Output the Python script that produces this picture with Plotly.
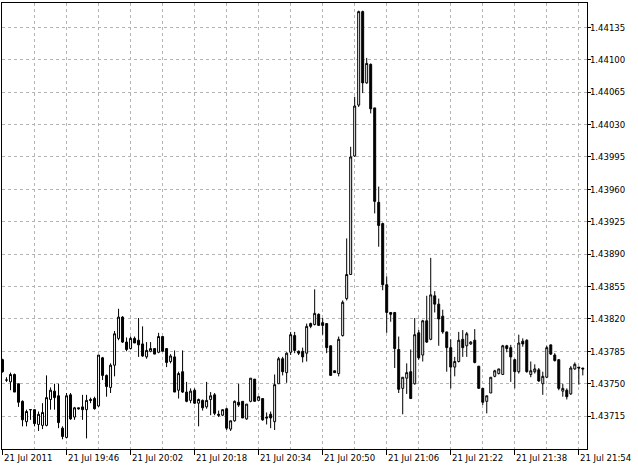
import pandas as pd
import plotly.graph_objects as go

start_time = "2011-07-21 19:30"

opens = [1.43776, 1.43754, 1.43752, 1.43760, 1.43750, 1.43731, 1.43709, 1.43722, 1.43722, 1.43706,
         1.43705, 1.43705, 1.43733, 1.43742, 1.43737, 1.43702, 1.43692, 1.43738, 1.43714, 1.43724,
         1.43725, 1.43722, 1.43733, 1.43734, 1.43726, 1.43778, 1.43759, 1.43746, 1.43770, 1.43799,
         1.43822, 1.43795, 1.43788, 1.43799, 1.43797, 1.43793, 1.43779, 1.43785, 1.43788, 1.43784,
         1.43801, 1.43788, 1.43774, 1.43779, 1.43743, 1.43763, 1.43741, 1.43732, 1.43743, 1.43729,
         1.43732, 1.43725, 1.43733, 1.43738, 1.43717, 1.43716, 1.43723, 1.43701, 1.43710, 1.43730,
         1.43731, 1.43712, 1.43731, 1.43755, 1.43732, 1.43734, 1.43714, 1.43717, 1.43709, 1.43750,
         1.43777, 1.43762, 1.43784, 1.43802, 1.43785, 1.43785, 1.43783, 1.43815, 1.43814, 1.43825,
         1.43816, 1.43815, 1.43791, 1.43764, 1.43761, 1.43802, 1.43842, 1.43868, 1.43996, 1.44051,
         1.44152, 1.44075, 1.44095, 1.44048, 1.43946, 1.43923, 1.43857, 1.43827, 1.43827, 1.43787,
         1.43745, 1.43756, 1.43763, 1.43750, 1.43805, 1.43781, 1.43818, 1.43798, 1.43845, 1.43836,
         1.43823, 1.43806, 1.43789, 1.43768, 1.43774, 1.43798, 1.43791, 1.43793, 1.43797, 1.43769,
         1.43745, 1.43731, 1.43740, 1.43758, 1.43761, 1.43760, 1.43791, 1.43789, 1.43776, 1.43763,
         1.43796, 1.43797, 1.43760, 1.43763, 1.43765, 1.43750, 1.43757, 1.43792, 1.43781, 1.43776,
         1.43742, 1.43743, 1.43739, 1.43766, 1.43768, 1.43767]

highs = [1.43777, 1.43757, 1.43762, 1.43761, 1.43750, 1.43732, 1.43722, 1.43722, 1.43722, 1.43720,
         1.43729, 1.43759, 1.43746, 1.43750, 1.43750, 1.43704, 1.43740, 1.43740, 1.43725, 1.43724,
         1.43738, 1.43738, 1.43735, 1.43736, 1.43781, 1.43779, 1.43760, 1.43772, 1.43807, 1.43831,
         1.43823, 1.43800, 1.43801, 1.43801, 1.43821, 1.43812, 1.43795, 1.43795, 1.43788, 1.43805,
         1.43801, 1.43788, 1.43782, 1.43786, 1.43763, 1.43786, 1.43752, 1.43745, 1.43745, 1.43734,
         1.43733, 1.43752, 1.43741, 1.43740, 1.43721, 1.43722, 1.43724, 1.43710, 1.43732, 1.43750,
         1.43731, 1.43728, 1.43756, 1.43755, 1.43736, 1.43734, 1.43719, 1.43720, 1.43760, 1.43779,
         1.43779, 1.43784, 1.43806, 1.43806, 1.43786, 1.43789, 1.43815, 1.43816, 1.43852, 1.43826,
         1.43821, 1.43815, 1.43791, 1.43764, 1.43801, 1.43840, 1.43907, 1.44006, 1.44060, 1.44153,
         1.44153, 1.44102, 1.44096, 1.44048, 1.43963, 1.43924, 1.43866, 1.43827, 1.43827, 1.43801,
         1.43757, 1.43772, 1.43787, 1.43821, 1.43808, 1.43819, 1.43845, 1.43886, 1.43850, 1.43842,
         1.43830, 1.43806, 1.43798, 1.43779, 1.43806, 1.43808, 1.43806, 1.43796, 1.43809, 1.43769,
         1.43745, 1.43737, 1.43757, 1.43765, 1.43766, 1.43792, 1.43792, 1.43792, 1.43777, 1.43803,
         1.43799, 1.43798, 1.43774, 1.43771, 1.43767, 1.43763, 1.43791, 1.43792, 1.43783, 1.43776,
         1.43750, 1.43745, 1.43769, 1.43773, 1.43768, 1.43767]

lows = [1.43762, 1.43752, 1.43743, 1.43741, 1.43725, 1.43704, 1.43704, 1.43711, 1.43704, 1.43699,
        1.43701, 1.43704, 1.43722, 1.43722, 1.43702, 1.43690, 1.43691, 1.43711, 1.43711, 1.43722,
        1.43711, 1.43691, 1.43729, 1.43722, 1.43725, 1.43754, 1.43736, 1.43740, 1.43758, 1.43797,
        1.43794, 1.43785, 1.43787, 1.43794, 1.43779, 1.43779, 1.43777, 1.43784, 1.43782, 1.43783,
        1.43785, 1.43768, 1.43772, 1.43741, 1.43734, 1.43740, 1.43730, 1.43729, 1.43728, 1.43704,
        1.43721, 1.43723, 1.43716, 1.43716, 1.43714, 1.43715, 1.43700, 1.43699, 1.43709, 1.43725,
        1.43713, 1.43711, 1.43730, 1.43731, 1.43732, 1.43710, 1.43706, 1.43702, 1.43700, 1.43750,
        1.43759, 1.43751, 1.43781, 1.43783, 1.43781, 1.43773, 1.43774, 1.43810, 1.43813, 1.43813,
        1.43803, 1.43783, 1.43759, 1.43762, 1.43758, 1.43801, 1.43840, 1.43868, 1.43995, 1.44049,
        1.44064, 1.44074, 1.44042, 1.43934, 1.43898, 1.43851, 1.43805, 1.43817, 1.43767, 1.43740,
        1.43717, 1.43739, 1.43734, 1.43749, 1.43776, 1.43774, 1.43794, 1.43797, 1.43827, 1.43791,
        1.43804, 1.43763, 1.43745, 1.43758, 1.43773, 1.43779, 1.43779, 1.43792, 1.43772, 1.43745,
        1.43727, 1.43718, 1.43740, 1.43757, 1.43760, 1.43760, 1.43784, 1.43752, 1.43745, 1.43761,
        1.43790, 1.43762, 1.43757, 1.43761, 1.43752, 1.43738, 1.43756, 1.43781, 1.43774, 1.43743,
        1.43736, 1.43733, 1.43738, 1.43765, 1.43749, 1.43759]

closes = [1.43763, 1.43754, 1.43760, 1.43741, 1.43730, 1.43711, 1.43720, 1.43722, 1.43707, 1.43717,
          1.43719, 1.43735, 1.43743, 1.43735, 1.43708, 1.43693, 1.43737, 1.43712, 1.43724, 1.43723,
          1.43722, 1.43732, 1.43732, 1.43723, 1.43781, 1.43759, 1.43747, 1.43770, 1.43804, 1.43822,
          1.43795, 1.43787, 1.43799, 1.43794, 1.43792, 1.43780, 1.43786, 1.43788, 1.43782, 1.43801,
          1.43785, 1.43773, 1.43780, 1.43741, 1.43761, 1.43741, 1.43731, 1.43742, 1.43729, 1.43733,
          1.43724, 1.43732, 1.43737, 1.43718, 1.43716, 1.43722, 1.43702, 1.43710, 1.43731, 1.43727,
          1.43713, 1.43728, 1.43756, 1.43731, 1.43736, 1.43711, 1.43713, 1.43713, 1.43749, 1.43777,
          1.43763, 1.43783, 1.43803, 1.43786, 1.43783, 1.43779, 1.43812, 1.43812, 1.43826, 1.43813,
          1.43813, 1.43789, 1.43759, 1.43762, 1.43798, 1.43838, 1.43868, 1.43995, 1.44050, 1.44152,
          1.44075, 1.44096, 1.44047, 1.43947, 1.43921, 1.43857, 1.43827, 1.43825, 1.43788, 1.43744,
          1.43757, 1.43762, 1.43734, 1.43803, 1.43778, 1.43818, 1.43795, 1.43846, 1.43836, 1.43820,
          1.43806, 1.43789, 1.43768, 1.43774, 1.43797, 1.43789, 1.43804, 1.43795, 1.43773, 1.43745,
          1.43730, 1.43737, 1.43757, 1.43764, 1.43766, 1.43791, 1.43788, 1.43779, 1.43763, 1.43794,
          1.43793, 1.43763, 1.43764, 1.43766, 1.43753, 1.43758, 1.43789, 1.43782, 1.43775, 1.43745,
          1.43745, 1.43736, 1.43767, 1.43771, 1.43767, 1.43766]

x_tick_times = ["2011-07-21 19:30", "2011-07-21 19:46", "2011-07-21 20:02", "2011-07-21 20:18",
                "2011-07-21 20:34", "2011-07-21 20:50", "2011-07-21 21:06", "2011-07-21 21:22",
                "2011-07-21 21:38", "2011-07-21 21:54"]
x_tick_labels = ["21 Jul 2011", "21 Jul 19:46", "21 Jul 20:02", "21 Jul 20:18", "21 Jul 20:34",
                 "21 Jul 20:50", "21 Jul 21:06", "21 Jul 21:22", "21 Jul 21:38", "21 Jul 21:54"]
x_minor_grid_times = ["2011-07-21 19:38", "2011-07-21 19:54", "2011-07-21 20:10", "2011-07-21 20:26",
                      "2011-07-21 20:42", "2011-07-21 20:58", "2011-07-21 21:14", "2011-07-21 21:30",
                      "2011-07-21 21:46"]
y_tick_values = [1.43715, 1.43750, 1.43785, 1.43820, 1.43855, 1.43890, 1.43925,
                 1.43960, 1.43995, 1.44030, 1.44065, 1.44100, 1.44135]

times = pd.date_range(start_time, periods=len(opens), freq="min")

FONT = "DejaVu Sans Condensed, Liberation Sans, Arial, sans-serif"
FSIZE = 9.5
GRID = "#b4b4b4"

fig = go.Figure(
    go.Candlestick(
        x=times, open=opens, high=highs, low=lows, close=closes,
        increasing=dict(line=dict(color="black", width=1), fillcolor="white"),
        decreasing=dict(line=dict(color="black", width=1), fillcolor="black"),
        whiskerwidth=0,
        showlegend=False,
        hoverinfo="skip",
    )
)

for t, lab in zip(x_tick_times, x_tick_labels):
    fig.add_annotation(
        x=t, xref="x", y=0, yref="paper", text=lab, showarrow=False,
        xanchor="left", yanchor="top", xshift=-1, yshift=-1,
        font=dict(family=FONT, size=FSIZE, color="black"),
    )

fig.update_layout(
    width=638, height=468, autosize=False,
    margin=dict(l=2, r=51, t=3, b=19),
    paper_bgcolor="white", plot_bgcolor="white",
    font=dict(family=FONT, size=FSIZE, color="black"),
    showlegend=False,
    xaxis=dict(
        type="date",
        range=["2011-07-21 19:29:52.5", "2011-07-21 21:56:03"],
        rangeslider=dict(visible=False),
        tickmode="array", tickvals=x_tick_times, showticklabels=False,
        ticks="outside", ticklen=5, tickcolor="black", tickwidth=1,
        showgrid=True, gridcolor=GRID, gridwidth=1, griddash="3px,3px",
        minor=dict(tickmode="array", tickvals=x_minor_grid_times, showgrid=True,
                   gridcolor=GRID, gridwidth=1, griddash="3px,3px", ticks=""),
        showline=True, linecolor="black", linewidth=1, mirror=True,
        zeroline=False, fixedrange=True,
    ),
    yaxis=dict(
        side="right",
        range=[1.436795, 1.441613],
        tickmode="array", tickvals=y_tick_values, tickformat=".5f",
        ticks="outside", ticklen=3, tickcolor="black", tickwidth=1,
        ticklabelstandoff=-3,
        showgrid=True, gridcolor=GRID, gridwidth=1, griddash="3px,3px",
        showline=True, linecolor="black", linewidth=1, mirror=True,
        zeroline=False, fixedrange=True,
        tickfont=dict(family=FONT, size=FSIZE, color="black"),
    ),
)

fig.write_html(
    "out.html",
    config={"displayModeBar": False, "staticPlot": True},
    post_script="document.body.style.margin='0';document.body.style.padding='0';",
)
